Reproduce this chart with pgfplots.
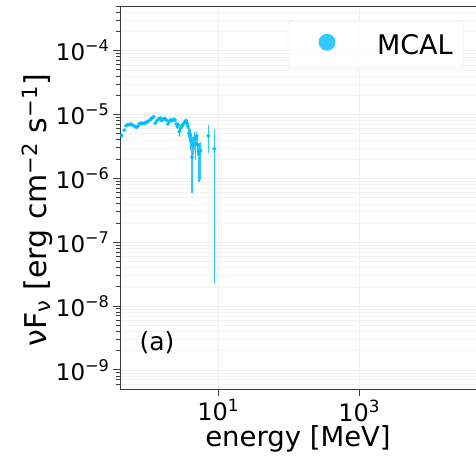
\documentclass[border=0pt]{standalone}
\usepackage{fontspec}
\setmainfont{DejaVu Sans}
\usepackage{pgfplots}
\pgfplotsset{compat=1.18}
\usepackage{pgfplotstable}
\definecolor{mcal}{RGB}{0,191,255}
\definecolor{gridc}{RGB}{238,238,238}
\definecolor{gridm}{RGB}{244,244,244}
\definecolor{spine}{RGB}{60,60,60}

\pgfplotstableread{
E F ep em
0.426 4.68e-6 0.25e-6 0.25e-6
0.465 5.67e-6 0.20e-6 0.20e-6
0.491 6.71e-6 0.20e-6 0.20e-6
0.518 6.88e-6 0.20e-6 0.20e-6
0.547 6.96e-6 0.20e-6 0.20e-6
0.578 7.04e-6 0.20e-6 0.20e-6
0.603 6.88e-6 0.20e-6 0.20e-6
0.644 6.63e-6 0.20e-6 0.20e-6
0.680 6.32e-6 0.20e-6 0.20e-6
0.718 6.48e-6 0.20e-6 0.20e-6
0.758 7.13e-6 0.20e-6 0.20e-6
0.801 7.30e-6 0.20e-6 0.20e-6
0.846 7.21e-6 0.20e-6 0.20e-6
0.893 7.30e-6 0.20e-6 0.20e-6
0.943 7.48e-6 0.20e-6 0.20e-6
0.996 7.75e-6 0.20e-6 0.20e-6
1.051 8.04e-6 0.25e-6 0.25e-6
1.098 8.43e-6 0.25e-6 0.25e-6
1.160 8.95e-6 0.25e-6 0.25e-6
1.211 9.17e-6 0.25e-6 0.25e-6
1.279 7.30e-6 0.25e-6 0.25e-6
1.351 8.04e-6 0.25e-6 0.25e-6
1.426 8.53e-6 0.25e-6 0.25e-6
1.506 8.74e-6 0.25e-6 0.25e-6
1.573 8.04e-6 0.25e-6 0.25e-6
1.661 8.43e-6 0.25e-6 0.25e-6
1.754 8.64e-6 0.30e-6 0.30e-6
1.832 8.23e-6 0.30e-6 0.30e-6
1.934 7.13e-6 0.30e-6 0.30e-6
2.021 7.75e-6 0.30e-6 0.30e-6
2.110 8.23e-6 0.30e-6 0.30e-6
2.228 8.04e-6 0.35e-6 0.35e-6
2.328 8.43e-6 0.35e-6 0.35e-6
2.431 8.23e-6 0.40e-6 0.40e-6
2.539 7.13e-6 0.40e-6 0.40e-6
2.624 6.48e-6 0.45e-6 0.45e-6
2.711 6.88e-6 0.45e-6 0.45e-6
2.801 5.40e-6 0.70e-6 0.99e-6
2.925 6.10e-6 0.50e-6 0.50e-6
3.055 6.63e-6 0.50e-6 0.50e-6
3.192 7.13e-6 0.50e-6 0.50e-6
3.334 7.65e-6 0.50e-6 0.50e-6
3.483 8.04e-6 0.50e-6 0.50e-6
3.597 7.30e-6 0.50e-6 0.50e-6
3.717 6.48e-6 0.60e-6 0.60e-6
3.840 5.09e-6 1.01e-6 0.84e-6
3.968 4.80e-6 1.08e-6 1.03e-6
4.101 3.91e-6 1.18e-6 1.12e-6
4.236 2.14e-6 1.63e-6 1.554e-6
4.377 3.34e-6 1.18e-6 1.01e-6
4.573 4.25e-6 1.15e-6 1.46e-6
4.724 3.47e-6 1.33e-6 1.52e-6
4.934 4.62e-6 0.78e-6 1.28e-6
5.097 3.34e-6 1.18e-6 1.14e-6
5.325 2.54e-6 1.01e-6 1.648e-6
5.623 2.73e-6 1.04e-6 1.783e-6
7.222 4.62e-6 2.26e-6 2.14e-6
8.783 2.89e-6 2.85e-6 2.867e-6
}\mcaldata

\begin{document}
\begin{tikzpicture}
\begin{axis}[
  at={(120pt,67pt)}, anchor=south west,
  scale only axis, width=356pt, height=383pt,
  xmode=log, ymode=log,
  xmin=0.4036, xmax=45190, ymin=5.01e-10, ymax=5.01e-4,
  axis x line=box, axis y line=left,
  axis line style={-, line width=1pt, spine},
  xtick pos=left, ytick pos=left,
  tick align=outside,
  major tick length=7pt, minor tick length=4pt,
  every tick/.style={spine, line width=0.9pt},
  xtick={10,1000}, xticklabels={10\textsuperscript{1},10\textsuperscript{3}},
  minor xtick={},
  ytick={1e-9,1e-8,1e-7,1e-6,1e-5,1e-4},
  yticklabels={10\textsuperscript{−9},10\textsuperscript{−8},10\textsuperscript{−7},10\textsuperscript{−6},10\textsuperscript{−5},10\textsuperscript{−4}},
  minor ytick={6e-10,7e-10,8e-10,9e-10,
    2e-9,3e-9,4e-9,5e-9,6e-9,7e-9,8e-9,9e-9,
    2e-8,3e-8,4e-8,5e-8,6e-8,7e-8,8e-8,9e-8,
    2e-7,3e-7,4e-7,5e-7,6e-7,7e-7,8e-7,9e-7,
    2e-6,3e-6,4e-6,5e-6,6e-6,7e-6,8e-6,9e-6,
    2e-5,3e-5,4e-5,5e-5,6e-5,7e-5,8e-5,9e-5,
    2e-4,3e-4,4e-4,5e-4},
  grid=both,
  major grid style={gridc, line width=0.6pt},
  minor grid style={gridm, line width=0.5pt},
  xticklabel style={font=\fontsize{24}{24}\selectfont},
  yticklabel style={font=\fontsize{23}{23}\selectfont},
  xlabel={energy [MeV]},
  xlabel style={font=\fontsize{27.5}{27.5}\selectfont, at={(axis description cs:0.5,-0.1488)}, anchor=base},
  ylabel={νF\textsubscript{ν} [erg cm\textsuperscript{−2} s\textsuperscript{−1}]},
  ylabel style={font=\fontsize{30}{30}\selectfont, at={(axis description cs:-0.2067,0.467)}, anchor=base},
  legend style={at={(0.966,0.962)}, anchor=north east, draw=black!12, rounded corners=4pt,
    fill=white, fill opacity=0.8, text opacity=1, font=\fontsize{27}{27}\selectfont,
    inner xsep=0pt, inner ysep=13pt, nodes={inner sep=0pt}},
  legend image code/.code={\path[draw=none, fill=none] (0pt,-10pt) rectangle (89pt,10pt); \fill[mcal, draw=none] (39pt,0.25em) circle (8.5pt);},
]
\addplot+[only marks, mark=*, mark size=1.8pt, color=mcal, mark options={fill=mcal, draw=mcal},
  error bars/.cd, y dir=both, y explicit, error mark=none,
  error bar style={line width=1.2pt, color=mcal!85}]
  table[x=E, y=F, y error plus=ep, y error minus=em]{\mcaldata};
\addlegendentry{MCAL\hspace*{11pt}}
\node[font=\fontsize{25}{25}\selectfont] at (axis description cs:0.104,0.12) {(a)};
\end{axis}
\pgfresetboundingbox
\useasboundingbox (0,0) rectangle (476pt,456pt);
\end{tikzpicture}
\end{document}
